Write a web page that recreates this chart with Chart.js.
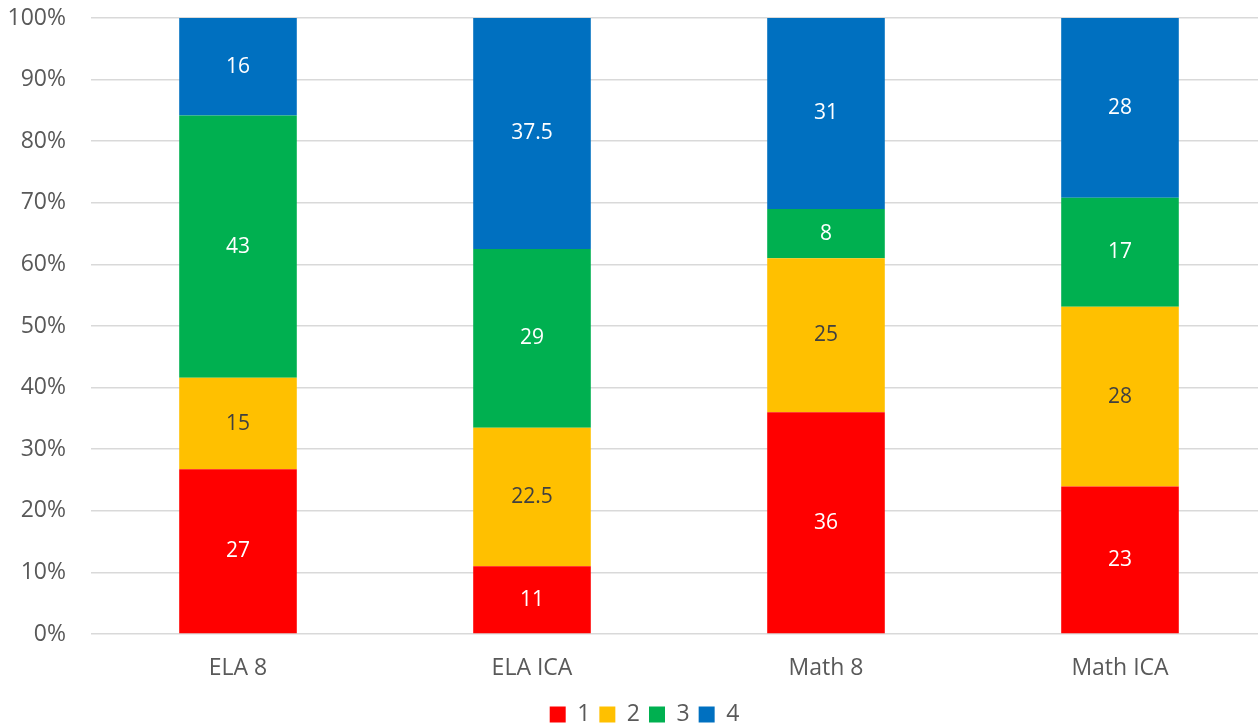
<!DOCTYPE html>
<html>
<head>
<meta charset="utf-8">
<script src="https://cdn.jsdelivr.net/npm/chart.js@4/dist/chart.umd.min.js"></script>
<style>
  html, body { margin: 0; padding: 0; background: #fff; overflow: hidden; }
  #wrap { width: 1290px; height: 725px; }
</style>
</head>
<body>
<div id="wrap"><canvas id="chart" width="1290" height="725"></canvas></div>
<script>
// data
const categories = ['ELA 8', 'ELA ICA', 'Math 8', 'Math ICA'];
const levels = ['1', '2', '3', '4'];
const level1 = [27, 11, 36, 23];
const level2 = [15, 22.5, 25, 28];
const level3 = [43, 29, 8, 17];
const level4 = [16, 37.5, 31, 28];
const yTicks = [0, 10, 20, 30, 40, 50, 60, 70, 80, 90, 100];

const colors = ['#FF0000', '#FFC000', '#00B050', '#0070C0'];
const labelColors = ['#ffffff', '#404040', '#ffffff', '#ffffff'];
const series = [level1, level2, level3, level4];

// 100% stacked: turn each column into shares
const totals = categories.map((c, i) => series.reduce((s, arr) => s + arr[i], 0));
const toPct = arr => arr.map((v, i) => v / totals[i] * 100);

const font = "'Open Sans', sans-serif";
const gray = '#595959';

// draw the raw value in the middle of each segment
const segmentLabels = {
    id: 'segmentLabels',
    afterDatasetsDraw(chart) {
        const ctx = chart.ctx;
        ctx.save();
        ctx.font = '21px ' + font;
        ctx.textAlign = 'center';
        ctx.textBaseline = 'middle';
        chart.data.datasets.forEach((ds, di) => {
            const meta = chart.getDatasetMeta(di);
            meta.data.forEach((bar, i) => {
                const p = bar.getProps(['x', 'y', 'base'], true);
                ctx.fillStyle = labelColors[di];
                ctx.fillText(String(series[di][i]), p.x, (p.y + p.base) / 2);
            });
        });
        ctx.restore();
    }
};

// legend: fixed height, nudged like the original
const legendTweak = {
    id: 'legendTweak',
    beforeLayout(chart) {
        const lg = chart.legend;
        if (lg && !lg._patched) {
            const fit = lg.fit;
            lg.fit = function () { fit.call(this); this.height = 36; };
            lg._patched = true;
        }
    },
    afterLayout(chart) {
        const lg = chart.legend;
        if (!lg) return;
        lg.left += 11;
        lg.right += 11;
        lg.top += 5;
        lg.bottom += 5;
    }
};

new Chart(document.getElementById('chart').getContext('2d'), {
    type: 'bar',
    data: {
        labels: categories,
        datasets: series.map((arr, i) => ({
            label: levels[i],
            data: toPct(arr),
            backgroundColor: colors[i],
            borderWidth: 0,
            barPercentage: 0.4,
            categoryPercentage: 1
        }))
    },
    options: {
        responsive: false,
        animation: false,
        layout: { padding: { top: 18, right: 23, left: 0, bottom: 0 } },
        scales: {
            x: {
                stacked: true,
                grid: { display: false, drawTicks: false },
                border: { display: false },
                ticks: { color: gray, font: { family: font, size: 23 }, padding: 21 },
                afterFit: scale => { scale.height = 55; }
            },
            y: {
                stacked: true,
                min: 0,
                max: 100,
                afterBuildTicks: scale => { scale.ticks = yTicks.map(v => ({ value: v })); },
                grid: { color: '#d9d9d9', lineWidth: 1.5, drawTicks: false },
                border: { display: false },
                ticks: {
                    color: gray,
                    font: { family: font, size: 23 },
                    padding: 25,
                    callback: v => v + '%'
                },
                afterFit: scale => {
                    scale.width = 91;
                    scale.paddingTop = 0;
                    scale.paddingBottom = 0;
                }
            }
        },
        plugins: {
            legend: {
                position: 'bottom',
                labels: {
                    color: gray,
                    font: { family: font, size: 23 },
                    boxWidth: 16,
                    boxHeight: 16,
                    padding: 9
                }
            },
            tooltip: { enabled: false }
        }
    },
    plugins: [segmentLabels, legendTweak]
});
</script>
</body>
</html>
